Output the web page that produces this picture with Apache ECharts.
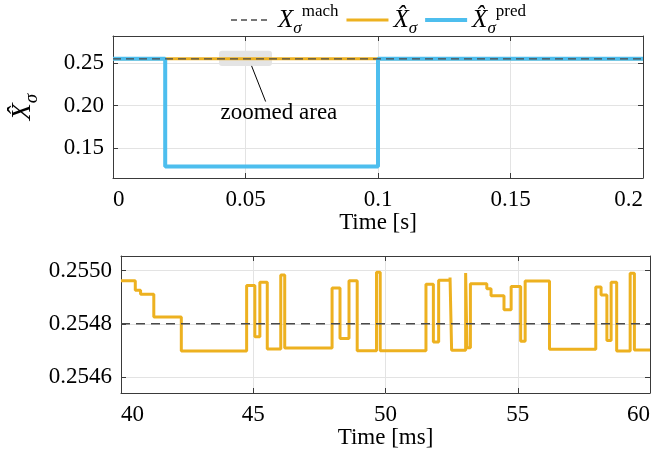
<!DOCTYPE html>
<html>
<head>
<meta charset="utf-8">
<script src="https://cdn.jsdelivr.net/npm/echarts@6/dist/echarts.min.js"></script>
<style>
html,body{margin:0;padding:0;background:#fff;}
#c{width:671px;height:454px;}
</style>
</head>
<body>
<div id="c"></div>
<script>
// ---------- data ----------
const machValue = 0.2548;

// top panel (time in s)
const topPredTime = [0, 0.0197, 0.1, 0.2];
const topPredValue = [0.2548, 0.1285, 0.2550, 0.2550];
const topEstTime = [0, 0.1, 0.2];
const topEstValue = [0.2549, 0.2549, 0.2549];
const topXTicks = [0, 0.05, 0.1, 0.15, 0.2];
const topYTicks = [0.15, 0.20, 0.25];

// bottom panel (time in ms)
const zoomTime = [40.0, 40.54, 40.74, 41.24, 42.28, 44.75, 45.06, 45.25, 45.53, 46.04,
  46.19, 47.98, 48.28, 48.62, 48.93, 49.66, 49.80, 51.53, 51.81, 52.01,
  52.44, 52.50, 53.03, 53.08, 53.21, 53.83, 53.99, 54.48, 54.75, 55.11,
  55.28, 56.20, 57.95, 58.15, 58.37, 58.53, 58.74, 59.25, 59.41, 60.0];
const zoomEst = [0.254962, 0.254926, 0.254911, 0.254826, 0.254698, 0.254944, 0.254751, 0.254956, 0.254705, 0.254984,
  0.254709, 0.254935, 0.254745, 0.254962, 0.254699, 0.254994, 0.254699, 0.254949, 0.254732, 0.254964,
  0.254974, 0.254701, 0.254991, 0.254710, 0.254951, 0.254932, 0.254906, 0.254853, 0.254940, 0.254735,
  0.254961, 0.254704, 0.254938, 0.254908, 0.254737, 0.254956, 0.254698, 0.254990, 0.254702, 0.254702];
const zoomXTicks = [40, 45, 50, 55, 60];
const zoomYTicks = [0.2546, 0.2548, 0.2550];

// annotation (top panel, data units)
const zoomBox = { x0: 0.04, x1: 0.06, y0: 0.2465, y1: 0.2644 };
const pointer = { x0: 0.0523, y0: 0.2465, x1: 0.0576, y1: 0.2047 };
const noteText = 'zoomed area';
const notePos = [0.0626, 0.1915];

// ---------- style ----------
const FONT = 'Liberation Serif';
const C_EST = '#EDB120', C_PRED = '#4DBEEE', C_MACH = '#4a4a4a';
const AX = '#3a3a3a', GRIDC = '#e3e3e3';

const pair = (xs, ys) => xs.map((x, i) => [x, ys[i]]);

function mkRich(big, small, lh) {
  return {
    x: {fontFamily: FONT, fontStyle: 'italic', fontSize: big, color: '#000', lineHeight: lh, verticalAlign: 'middle'},
    sub: {fontFamily: FONT, fontStyle: 'italic', fontSize: small, color: '#000', lineHeight: lh, verticalAlign: 'bottom'},
    sup: {fontFamily: FONT, fontSize: small, color: '#000', lineHeight: lh, verticalAlign: 'top'}
  };
}

function xAxisPair(gi, min, max, interval, name, nameGap) {
  const base = {
    type: 'value', gridIndex: gi, min: min, max: max, interval: interval,
    axisLine: {show: true, onZero: false, lineStyle: {color: AX, width: 1}},
    axisTick: {show: true, inside: true, length: 5, lineStyle: {color: AX}},
    splitLine: {show: false}
  };
  return [
    Object.assign({}, base, {
      position: 'bottom',
      splitLine: {show: true, lineStyle: {color: GRIDC, width: 1}},
      axisLabel: {show: true, fontFamily: FONT, fontSize: 23, color: '#000', margin: 10,
        alignMinLabel: 'left', alignMaxLabel: 'right',
        formatter: v => String(+v.toFixed(4))},
      name: name, nameLocation: 'middle', nameGap: nameGap,
      nameTextStyle: {fontFamily: FONT, fontSize: 23, color: '#000'}
    }),
    Object.assign({}, base, {position: 'top', axisLabel: {show: false}})
  ];
}

function yAxisPair(gi, min, max, ticks, digits, name) {
  const base = {
    type: 'value', gridIndex: gi, min: min, max: max,
    axisLine: {show: true, onZero: false, lineStyle: {color: AX, width: 1}},
    axisTick: {show: true, inside: true, length: 5, customValues: ticks, lineStyle: {color: AX}},
    splitLine: {show: false}
  };
  const left = Object.assign({}, base, {
    position: 'left',
    splitLine: {show: true, customValues: ticks, lineStyle: {color: GRIDC, width: 1}},
    axisLabel: {show: true, customValues: ticks, fontFamily: FONT, fontSize: 23, color: '#000', margin: 9,
      formatter: v => v.toFixed(digits)}
  });
  if (name) {
    left.name = name.text;
    left.nameLocation = 'middle';
    left.nameGap = name.gap;
    left.nameRotate = 90;
    left.nameTextStyle = {rich: mkRich(28, 19, 36)};
  }
  return [left, Object.assign({}, base, {position: 'right', axisLabel: {show: false, customValues: ticks}})];
}

const chart = echarts.init(document.getElementById('c'), null, {renderer: 'canvas'});

const xT = xAxisPair(0, 0, 0.2, 0.05, 'Time [s]', 33);
const xB = xAxisPair(1, 40, 60, 5, 'Time [ms]', 33);
const yT = yAxisPair(0, 0.115, 0.2816, topYTicks, 2, {text: '{x|X\u0302}{sub|σ}', gap: 72});
const yB = yAxisPair(1, 0.25454, 0.255055, zoomYTicks, 4, null);

// legend icons (42 x 4 box; leading M points fix the bounding box)
const ICON_MACH = 'path://M0,0M42,4M0,1.3h6v1.4h-6zM10,1.3h6v1.4h-6zM20,1.3h6v1.4h-6zM30,1.3h6v1.4h-6z';
const ICON_EST = 'path://M0,0M42,4M0,0.5H42V3.5H0z';
const ICON_PRED = 'path://M0,0M42,4M0,0H42V4H0z';

const option = {
  animation: false,
  backgroundColor: '#fff',
  grid: [
    {left: 113, right: 28, top: 36, height: 142},
    {left: 121, right: 21, top: 256, height: 137}
  ],
  legend: {
    left: 226, top: -2, itemWidth: 42, itemHeight: 4, itemGap: 8,
    data: [
      {name: 'mach', icon: ICON_MACH},
      {name: 'est', icon: ICON_EST},
      {name: 'pred', icon: ICON_PRED}
    ],
    formatter: function (n) {
      if (n === 'mach') return '{x|X}{sub|σ}{sup|mach}';
      if (n === 'est') return '{x|X\u0302}{sub|σ}';
      return '{x|X\u0302}{sub|σ}{sup|pred}';
    },
    textStyle: {rich: mkRich(25, 17, 34)}
  },
  xAxis: [xT[0], xT[1], xB[0], xB[1]],
  yAxis: [yT[0], yT[1], yB[0], yB[1]],
  series: [
    {name: 'est', type: 'line', xAxisIndex: 0, yAxisIndex: 0, step: 'end', symbol: 'none', z: 2,
      lineStyle: {color: C_EST, width: 3}, itemStyle: {color: C_EST},
      data: pair(topEstTime, topEstValue)},
    {name: 'pred', type: 'line', xAxisIndex: 0, yAxisIndex: 0, step: 'end', symbol: 'none', z: 3,
      lineStyle: {color: C_PRED, width: 4}, itemStyle: {color: C_PRED},
      data: pair(topPredTime, topPredValue)},
    {name: 'mach', type: 'line', xAxisIndex: 0, yAxisIndex: 0, symbol: 'none', z: 4,
      lineStyle: {color: C_MACH, width: 1.4, type: [8, 5]}, itemStyle: {color: C_MACH},
      data: pair([topXTicks[0], topXTicks[topXTicks.length - 1]], [machValue, machValue])},
    {name: 'est', type: 'line', xAxisIndex: 2, yAxisIndex: 2, step: 'end', symbol: 'none', z: 2,
      lineStyle: {color: C_EST, width: 3}, itemStyle: {color: C_EST},
      data: pair(zoomTime, zoomEst)},
    {name: 'mach', type: 'line', xAxisIndex: 2, yAxisIndex: 2, symbol: 'none', z: 4,
      lineStyle: {color: C_MACH, width: 1.5, type: [9, 6]}, itemStyle: {color: C_MACH},
      data: pair([zoomXTicks[0], zoomXTicks[zoomXTicks.length - 1]], [machValue, machValue])}
  ]
};
chart.setOption(option);

// annotation placed through the library's own scale
const p0 = chart.convertToPixel({xAxisIndex: 0, yAxisIndex: 0}, [zoomBox.x0, zoomBox.y1]);
const p1 = chart.convertToPixel({xAxisIndex: 0, yAxisIndex: 0}, [zoomBox.x1, zoomBox.y0]);
const l0 = chart.convertToPixel({xAxisIndex: 0, yAxisIndex: 0}, [pointer.x0, pointer.y0]);
const l1 = chart.convertToPixel({xAxisIndex: 0, yAxisIndex: 0}, [pointer.x1, pointer.y1]);
const tp = chart.convertToPixel({xAxisIndex: 0, yAxisIndex: 0}, notePos);
chart.setOption({
  graphic: [
    {type: 'rect', z: 1, shape: {x: p0[0], y: p0[1], width: p1[0] - p0[0], height: p1[1] - p0[1], r: 3},
      style: {fill: '#e4e4e4'}},
    {type: 'line', z: 5, shape: {x1: l0[0], y1: l0[1], x2: l1[0], y2: l1[1]},
      style: {stroke: '#000', lineWidth: 1}},
    {type: 'text', z: 5, x: tp[0], y: tp[1],
      style: {text: noteText, fontFamily: FONT, fontSize: 23, fill: '#000', align: 'center', verticalAlign: 'middle'}}
  ]
});
</script>
</body>
</html>
